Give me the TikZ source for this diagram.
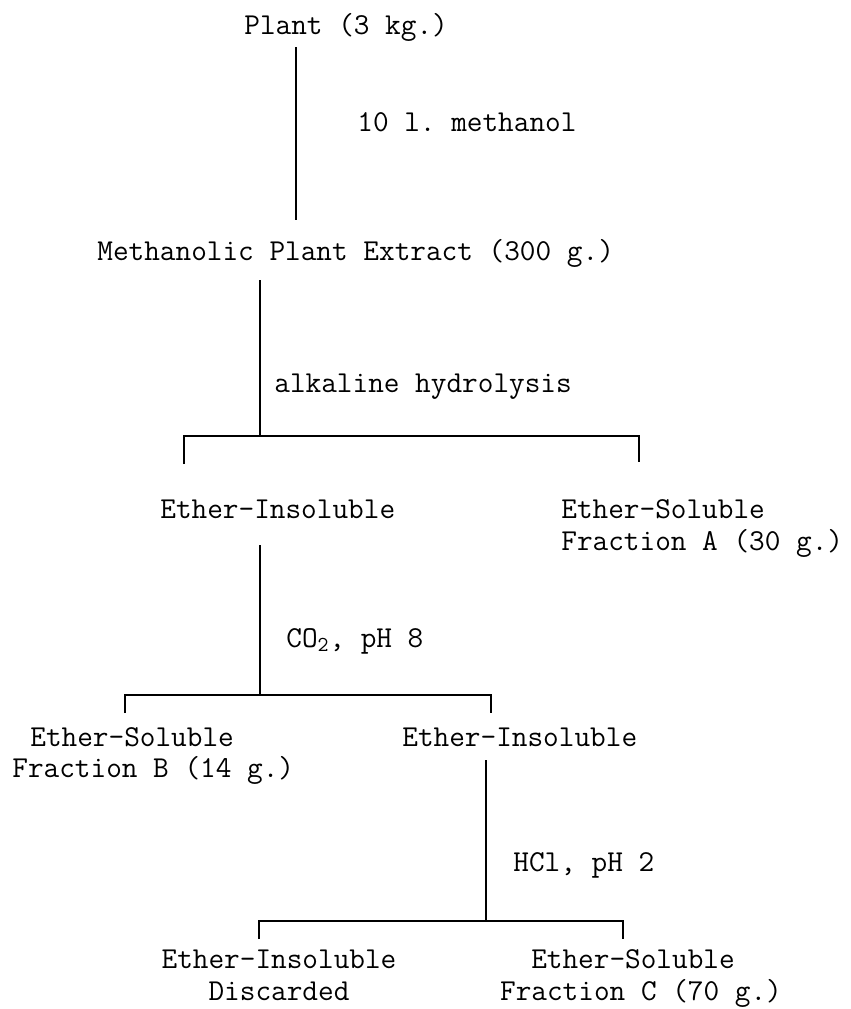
\documentclass[tikz,border=0pt]{standalone}
\usepackage{fontspec}
\usepackage{tikz}
\setmonofont{Latin Modern Mono}

\begin{document}
\begin{tikzpicture}[x=0.02cm,y=-0.02cm,
    txt/.style={inner sep=0pt,anchor=base west,font=\ttfamily\fontsize{17.3}{18}\selectfont},
    ctxt/.style={txt,anchor=base},
    ln/.style={line width=1.1pt}]
    \useasboundingbox (0,0) rectangle (850,1009);
    % substances and steps
    \node[txt] (plant) at (244,34) {Plant (3 kg.)};
    \node[txt] (meoh) at (357,131) {10 l. methanol};
    \node[txt] (extract) at (97,260) {Methanolic Plant Extract (300 g.)};
    \node[txt] (hydro) at (274,392) {alkaline hydrolysis};
    \node[txt] (insolA) at (160,518) {Ether-Insoluble};
    \node[txt] (solA) at (561,518) {Ether-Soluble};
    \node[txt] (fracA) at (561,550) {Fraction A (30 g.)};
    \node[txt] (co2) at (286,647) {CO\textsubscript{2}, pH 8};
    \node[txt] (solB) at (30,746) {Ether-Soluble};
    \node[txt] (fracB) at (12,777) {Fraction B (14 g.)};
    \node[txt] (insolB) at (402,746) {Ether-Insoluble};
    \node[txt] (hcl) at (513,871) {HCl, pH 2};
    \node[ctxt] (insolC) at (279,968) {Ether-Insoluble};
    \node[ctxt] (disc) at (279,1000) {Discarded};
    \node[ctxt] (solC) at (633,968) {Ether-Soluble};
    \node[ctxt] (fracC) at (641,1000) {Fraction C (70 g.)};
    % line ends
    \coordinate (a1) at (296,47);
    \coordinate (a2) at (296,220);
    \coordinate (b1) at (260,280);
    \coordinate (j1) at (260,436);
    \coordinate (t1l) at (184,464);
    \coordinate (t1r) at (639,462);
    \coordinate (c1) at (260,545);
    \coordinate (j2) at (260,695);
    \coordinate (t2l) at (125,713);
    \coordinate (t2r) at (491,713);
    \coordinate (d1) at (486,760);
    \coordinate (j3) at (486,921);
    \coordinate (t3l) at (259,939);
    \coordinate (t3r) at (623,939);
    % connectors
    \draw[ln] (a1) -- (a2);
    \draw[ln] (b1) -- (j1);
    \draw[ln] (t1l) |- (j1) -| (t1r);
    \draw[ln] (c1) -- (j2);
    \draw[ln] (t2l) |- (j2) -| (t2r);
    \draw[ln] (d1) -- (j3);
    \draw[ln] (t3l) |- (j3) -| (t3r);
\end{tikzpicture}
\end{document}
